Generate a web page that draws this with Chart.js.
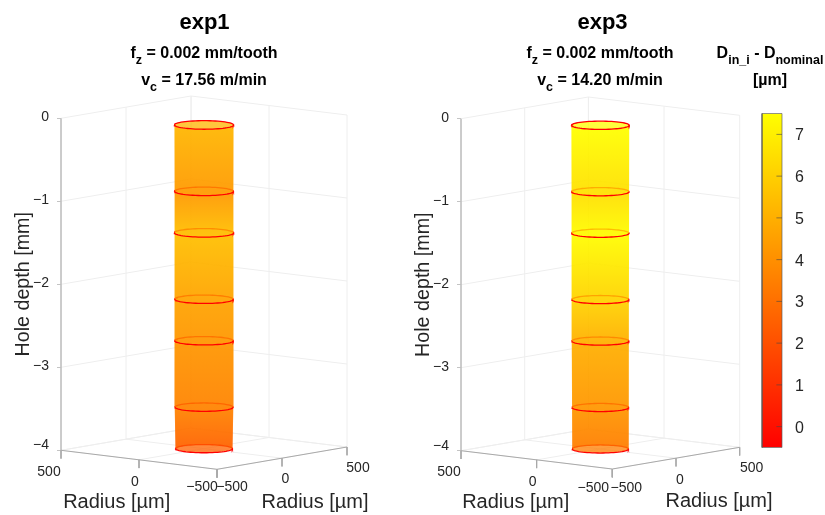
<!DOCTYPE html>
<html lang="en">
<head>
    <meta charset="UTF-8">
    <title>exp1 exp3 hole diameter</title>
    <script src="https://cdn.jsdelivr.net/npm/chart.js"></script>
    <style>
        body { margin: 0; background: #fff; font-family: 'Liberation Sans', sans-serif; color: #000; }
        canvas { position: absolute; top: 0; }
        .head { position: absolute; transform: translateX(-50%); white-space: nowrap; font-weight: bold; font-size: 16px; line-height: 20px; z-index: 2; }
        .head.big { font-size: 22px; line-height: 26px; }
        .head sub { font-size: 12.5px; line-height: 0; vertical-align: -6px; }
    </style>
</head>
<body>
    <div class="head big" style="left:204.5px;top:8.5px">exp1</div>
    <div class="head" style="left:204px;top:43px">f<sub>z</sub> = 0.002 mm/tooth</div>
    <div class="head" style="left:204px;top:69.5px">v<sub>c</sub> = 17.56 m/min</div>
    <div class="head big" style="left:602.5px;top:8.5px">exp3</div>
    <div class="head" style="left:600px;top:43px">f<sub>z</sub> = 0.002 mm/tooth</div>
    <div class="head" style="left:600px;top:69.5px">v<sub>c</sub> = 14.20 m/min</div>
    <div class="head" style="left:770px;top:43px">D<sub>in_i</sub> - D<sub>nominal</sub></div>
    <div class="head" style="left:770px;top:69.5px">[µm]</div>

    <canvas id="exp1" width="400" height="515" style="left:0"></canvas>
    <canvas id="exp3" width="400" height="515" style="left:400px"></canvas>
    <canvas id="cbar" width="125" height="515" style="left:700px"></canvas>

    <script>
        // values
        const depths = [-0.1, -0.9, -1.4, -2.2, -2.7, -3.5, -4.0];
        const radiiExp1 = [146, 145, 146, 144, 144, 143, 140];
        const radiiExp3 = [146, 145, 145, 144, 144, 143, 142];
        const valuesExp1 = [5.2, 4.3, 5.5, 4.6, 4.2, 3.6, 2.5];
        const valuesExp3 = [7.5, 6.5, 7.4, 6.1, 5.0, 4.2, 3.4];
        const depthTicks = [0, -1, -2, -3, -4];
        const radiusTicks = [500, 0, -500];
        const colorbarTicks = [0, 1, 2, 3, 4, 5, 6, 7];
        const colorMin = -0.5;
        const colorMax = 7.5;

        const pxPerMm = 83;
        const layerAlpha = 0.76;
        const labelColor = '#262626';

        function minusSign(v) {
            return String(v).replace('-', '\u2212');
        }

        function autumn(value, alpha) {
            const g = Math.round(Math.min(1, Math.max(0, (value - colorMin) / (colorMax - colorMin))) * 255);
            return `rgba(255,${g},0,${alpha})`;
        }

        function project(view, X, Y, z) {
            return {
                x: (500 - X) * view.kx + (Y + 500) * view.ky,
                y: z + ((X - 500) * view.fx + (Y + 500) * view.fy) / pxPerMm
            };
        }

        function segment(points, color, width) {
            return { data: points, borderColor: color, borderWidth: width, pointRadius: 0, showLine: true, fill: false, clip: false, tension: 0 };
        }

        // half a ring, from thetaStart to thetaStart + PI
        function arc(view, radius, z, thetaStart, reverse) {
            const pts = [];
            for (let i = 0; i <= 32; i++) {
                const t = thetaStart + Math.PI * (reverse ? 32 - i : i) / 32;
                pts.push(project(view, radius * Math.cos(t), radius * Math.sin(t), z));
            }
            return pts;
        }

        // one side of the cylinder wall as a closed outline
        function wall(view, radii, thetaStart) {
            const last = depths.length - 1;
            const outline = arc(view, radii[0], depths[0], thetaStart, false);
            const side = (i, t) => project(view, radii[i] * Math.cos(t), radii[i] * Math.sin(t), depths[i]);
            const endT = thetaStart + Math.PI;
            for (let i = 1; i < last; i++) outline.push(side(i, endT));
            outline.push(...arc(view, radii[last], depths[last], thetaStart, true));
            for (let i = last - 1; i > 0; i--) outline.push(side(i, thetaStart));
            return outline;
        }

        function wallGradient(view, values, shift) {
            return function (ctx) {
                const chart = ctx.chart;
                if (!chart.chartArea) return autumn(values[0], layerAlpha);
                const scale = chart.scales.y;
                const centre = depths.map(z => scale.getPixelForValue(project(view, 0, 0, z).y) + shift);
                const top = centre[0];
                const bottom = centre[centre.length - 1];
                const gradient = chart.ctx.createLinearGradient(0, top, 0, bottom);
                centre.forEach((y, i) => gradient.addColorStop((y - top) / (bottom - top), autumn(values[i], layerAlpha)));
                return gradient;
            };
        }

        function surface(view, radii, thetaStart, values, shift) {
            return {
                data: wall(view, radii, thetaStart),
                borderWidth: 0,
                borderColor: 'rgba(0,0,0,0)',
                backgroundColor: wallGradient(view, values, shift),
                fill: 'shape',
                pointRadius: 0,
                showLine: true,
                clip: false,
                tension: 0
            };
        }

        function buildDatasets(view, radii, values) {
            const grid = '#eeeeee';
            const edge = '#a9a9a9';
            const sets = [];
            depthTicks.forEach(z => {
                sets.push(segment([project(view, 500, -500, z), project(view, 500, 500, z), project(view, -500, 500, z)], grid, 1));
            });
            radiusTicks.forEach(t => {
                sets.push(segment([project(view, 500, t, -4), project(view, 500, t, 0)], grid, 1));
                sets.push(segment([project(view, t, 500, -4), project(view, t, 500, 0)], grid, 1));
                sets.push(segment([project(view, t, -500, -4), project(view, t, 500, -4)], grid, 1));
                sets.push(segment([project(view, 500, t, -4), project(view, -500, t, -4)], grid, 1));
            });
            sets.push(segment([project(view, 500, -500, 0), project(view, 500, -500, -4)], '#b0b0b0', 1.2));
            sets.push(segment([project(view, 500, -500, -4), project(view, -500, -500, -4), project(view, -500, 500, -4)], edge, 1));
            radiusTicks.forEach(t => {
                sets.push(segment([project(view, t, -500, -4), project(view, t, -500, -4.1)], edge, 1));
                sets.push(segment([project(view, -500, t, -4), project(view, -500, t, -4.1)], edge, 1));
            });
            // back half first, then the see-through wall, then the front half
            sets.push(surface(view, radii, view.thetaBack, values, -3));
            depths.forEach((z, i) => sets.push(segment(arc(view, radii[i], z, view.thetaBack, false), '#ff0000', 1.3)));
            sets.push(surface(view, radii, view.thetaFront, values, 3));
            depths.forEach((z, i) => sets.push(segment(arc(view, radii[i], z, view.thetaFront, false), '#ff0000', 1.3)));
            return sets.reverse();
        }

        const floorLabels = {
            id: 'floorLabels',
            afterDraw(chart, args, opts) {
                const { ctx, scales } = chart;
                const view = opts.view;
                ctx.save();
                ctx.fillStyle = labelColor;
                ctx.textAlign = 'center';
                ctx.textBaseline = 'middle';
                ctx.font = "14px 'Liberation Sans'";
                radiusTicks.forEach((t, i) => {
                    const a = project(view, t, -500, -4);
                    const b = project(view, -500, t, -4);
                    ctx.fillText(minusSign(t), scales.x.getPixelForValue(a.x) + view.leftOff[i][0], scales.y.getPixelForValue(a.y) + view.leftOff[i][1]);
                    ctx.fillText(minusSign(t), scales.x.getPixelForValue(b.x) + view.rightOff[i][0], scales.y.getPixelForValue(b.y) + view.rightOff[i][1]);
                });
                // the lowest depth label sits a little above its tick
                ctx.textAlign = 'right';
                ctx.fillText(minusSign(-4), 49, scales.y.getPixelForValue(-4) - 5);
                ctx.textAlign = 'center';
                ctx.font = "20px 'Liberation Sans'";
                ctx.fillText('Radius [\u00b5m]', view.titleLeft[0], view.titleLeft[1]);
                ctx.fillText('Radius [\u00b5m]', view.titleRight[0], view.titleRight[1]);
                ctx.restore();
            }
        };

        function holeChart(id, view, radii, values) {
            view.thetaFront = Math.atan2(view.ky, -view.kx);
            view.thetaBack = view.thetaFront - Math.PI;
            return new Chart(document.getElementById(id), {
                type: 'scatter',
                data: { datasets: buildDatasets(view, radii, values) },
                plugins: [floorLabels],
                options: {
                    responsive: false,
                    animation: false,
                    events: [],
                    layout: { padding: { top: view.top, bottom: view.bottom, left: 0, right: 339 - view.width } },
                    plugins: { legend: { display: false }, tooltip: { enabled: false }, floorLabels: { view } },
                    scales: {
                        x: { type: 'linear', display: false, min: 0, max: view.width },
                        y: {
                            min: -4.3,
                            max: 0.3,
                            afterFit(scale) { scale.width = 61; },
                            afterBuildTicks(scale) { scale.ticks = depthTicks.map(v => ({ value: v })); },
                            border: { display: false },
                            grid: { drawOnChartArea: false, drawTicks: true, tickLength: 4, color: '#c4c4c4' },
                            ticks: {
                                autoSkip: false,
                                padding: 8,
                                labelOffset: -1,
                                color: labelColor,
                                font: { family: 'Liberation Sans', size: 14 },
                                callback: v => (v === -4 ? '' : minusSign(v))
                            },
                            title: {
                                display: true,
                                text: 'Hole depth [mm]',
                                color: labelColor,
                                font: { family: 'Liberation Sans', size: 19.7 },
                                padding: { top: 11.7, bottom: 0 }
                            }
                        }
                    }
                }
            });
        }

        holeChart('exp1', {
            width: 286, kx: 0.156, ky: 0.13, fx: 0.019, fy: 0.0223,
            top: 93.4, bottom: 39.8,
            leftOff: [[-12, 22], [-4, 22], [-15, 18]],
            rightOff: [[11, 21], [3.5, 21], [15, 18]],
            titleLeft: [116.7, 502], titleRight: [315, 502.5]
        }, radiiExp1, valuesExp1);

        holeChart('exp3', {
            width: 278.7, kx: 0.1513, ky: 0.1274, fx: 0.0183, fy: 0.0217,
            top: 93.8, bottom: 39.4,
            leftOff: [[-12, 21], [-4, 22], [-19, 19]],
            rightOff: [[12, 21], [4, 22], [14, 19]],
            titleLeft: [115.7, 502.5], titleRight: [319, 501]
        }, radiiExp3, valuesExp3);

        // colour bar
        new Chart(document.getElementById('cbar'), {
            type: 'scatter',
            data: {
                datasets: colorbarTicks.map(t => segment([{ x: 0.72, y: t }, { x: 1, y: t }], 'rgba(70,70,70,0.6)', 1)).concat([{
                    data: [{ x: 0, y: colorMin }, { x: 1, y: colorMin }, { x: 1, y: colorMax }, { x: 0, y: colorMax }, { x: 0, y: colorMin }],
                    borderColor: 'rgba(90,90,90,0.65)',
                    borderWidth: 1,
                    pointRadius: 0,
                    showLine: true,
                    fill: 'shape',
                    clip: false,
                    tension: 0,
                    backgroundColor(ctx) {
                        const chart = ctx.chart;
                        if (!chart.chartArea) return '#ff0';
                        const s = chart.scales.y;
                        const gradient = chart.ctx.createLinearGradient(0, s.getPixelForValue(colorMax), 0, s.getPixelForValue(colorMin));
                        gradient.addColorStop(0, autumn(colorMax, 1));
                        gradient.addColorStop(1, autumn(colorMin, 1));
                        return gradient;
                    }
                }])
            },
            options: {
                responsive: false,
                animation: false,
                events: [],
                layout: { padding: { top: 113.5, bottom: 67.5, left: 62, right: 0 } },
                plugins: { legend: { display: false }, tooltip: { enabled: false } },
                scales: {
                    x: { type: 'linear', display: false, min: 0, max: 1 },
                    y: {
                        position: 'right',
                        min: colorMin,
                        max: colorMax,
                        afterFit(scale) { scale.width = 43; },
                        afterBuildTicks(scale) { scale.ticks = colorbarTicks.map(v => ({ value: v })); },
                        border: { display: false },
                        grid: { display: false },
                        ticks: { autoSkip: false, padding: 5, labelOffset: 1.5, color: labelColor, font: { family: 'Liberation Sans', size: 16 } }
                    }
                }
            }
        });
    </script>
</body>
</html>
